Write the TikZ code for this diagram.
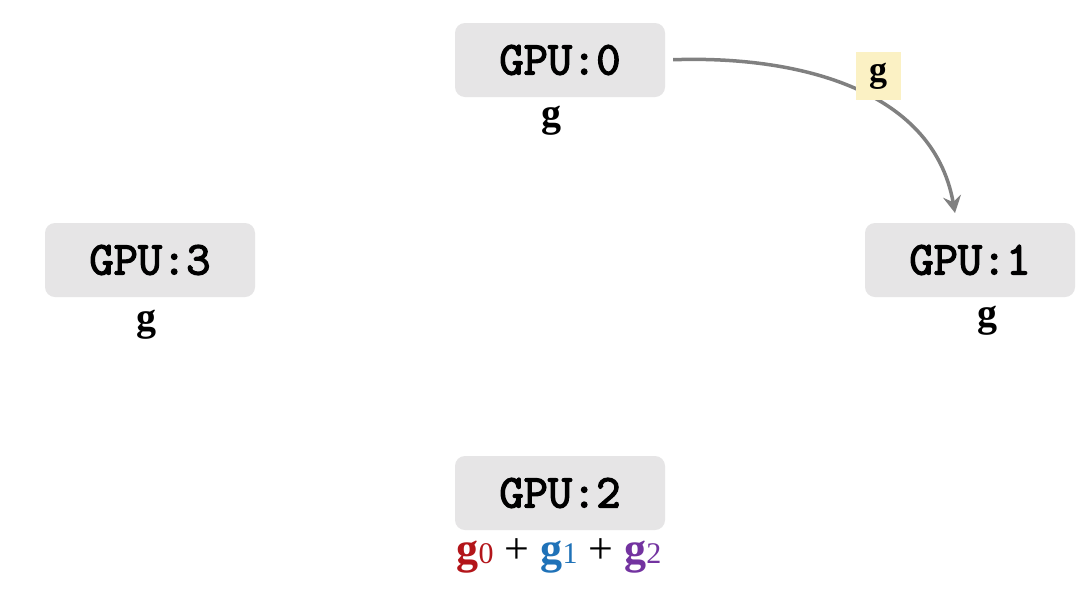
\documentclass[tikz,border=0pt]{standalone}
\usepackage{fontspec}
\setmainfont{Liberation Serif}
\setmonofont{Latin Modern Mono}[AutoFakeBold=3]
\usetikzlibrary{arrows.meta}

\definecolor{boxgray}{HTML}{E6E5E6}
\definecolor{arrowgray}{HTML}{808080}
\definecolor{tagyellow}{HTML}{FBF1C4}
\definecolor{gred}{HTML}{B3151A}
\definecolor{gblue}{HTML}{1F72B8}
\definecolor{gpurple}{HTML}{7333A0}

\tikzset{
  gpu/.style={fill=boxgray,rounded corners=10pt,minimum width=210pt,minimum height=74pt,
    inner sep=0pt,font=\fontsize{47}{47}\selectfont\ttfamily\bfseries},
  grad/.style={inner sep=0pt,font=\fontsize{40}{40}\selectfont\bfseries},
  tag/.style={fill=tagyellow,minimum width=45pt,minimum height=48pt,inner sep=0pt,
    font=\fontsize{36}{36}\selectfont\bfseries}
}
\newcommand{\gsub}[2]{\textcolor{#1}{\textbf{g}\fontsize{30}{30}\selectfont #2}}

\begin{document}
\begin{tikzpicture}
  [x=1pt,y=-1pt,>={Stealth[length=17pt,width=18pt,inset=6pt]}]
  \useasboundingbox[fill=white] (0,0) rectangle (1092,598);

  \node[gpu] (g0) at (560,60)  {GPU:0};
  \node[gpu] (g1) at (970,260) {GPU:1};
  \node[gpu] (g2) at (560,493) {GPU:2};
  \node[gpu] (g3) at (150,260) {GPU:3};

  \node[grad] (l0) at (551,121) {g};
  \node[grad] (l1) at (987,321) {g};
  \node[grad] (l3) at (146,325) {g};
  \node[inner sep=0pt,font=\fontsize{44}{44}\selectfont] (l2) at (559,556)
    {\gsub{gred}{0}\hspace{11pt}+\hspace{11pt}\gsub{gblue}{1}\hspace{11pt}+\hspace{11pt}\gsub{gpurple}{2}};

  \coordinate (tip) at (955,213);
  \draw[->,arrowgray,line width=3.5pt,shorten <=8pt] (g0.east) to[out=2,in=100] (tip);
  \node[tag] (t0) at (878,76) {g};
\end{tikzpicture}
\end{document}
